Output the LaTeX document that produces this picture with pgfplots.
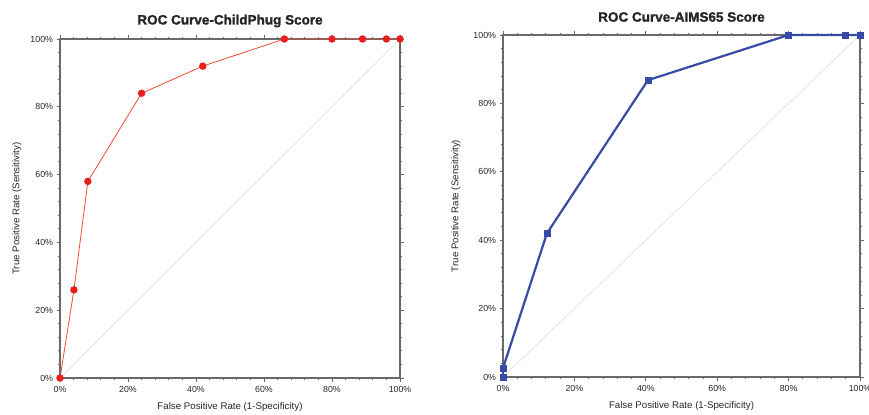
\documentclass[border=0pt]{standalone}
\usepackage{pgfplots}
\pgfplotsset{compat=1.18}
\usepackage{fontspec}
\setmainfont{Liberation Sans}
\newfontfamily\heavyfont{Liberation Sans Bold}[FakeBold=1.6]
\definecolor{rocred}{RGB}{232,30,30}
\definecolor{rocredline}{RGB}{240,75,55}
\definecolor{rocblue}{RGB}{55,75,165}
\definecolor{axgray}{RGB}{105,105,105}
\definecolor{diag}{RGB}{222,222,222}
\pgfplotsset{
  rocaxis/.style={
    scale only axis,
    xmin=0, xmax=100, ymin=0, ymax=100,
    clip=false,
    axis line style={axgray, line width=1.1bp},
    tick style={axgray, line width=0.8bp},
    major tick length=3.5bp,
    minor tick length=2bp,
    tick align=outside,
    xtick={0,20,40,60,80,100},
    ytick={0,20,40,60,80,100},
    minor x tick num=4,
    minor y tick num=4,
    xticklabels={0\%,20\%,40\%,60\%,80\%,100\%},
    yticklabels={0\%,20\%,40\%,60\%,80\%,100\%},
    /pgf/number format/assume math mode=true,
    tick label style={font=\fontsize{8.8bp}{10bp}\selectfont, text=black!85},
    xticklabel style={yshift=-1bp},
    label style={font=\fontsize{9.7bp}{11bp}\selectfont, text=black!85},
    title style={font=\fontsize{13.5bp}{15bp}\selectfont\heavyfont, text=black!85, anchor=center, at={(axis description cs:0.5,1)}, yshift=12bp},
    xlabel style={anchor=center, at={(axis description cs:0.5,0)}, yshift=-29bp},
    xlabel={False Positive Rate (1-Specificity)},
    ylabel={True Positive Rate (Sensitivity)},
  }
}
\begin{document}
\begin{tikzpicture}[x=1bp,y=1bp]
\useasboundingbox (0,0) rectangle (869,414);
\begin{axis}[rocaxis, at={(60bp,36bp)}, anchor=south west,
  width=340bp, height=339bp,
  title={ROC Curve-ChildPhug Score},
  ylabel style={anchor=center, at={(axis description cs:-0.127,0.5)}},
]
\addplot[diag, line width=0.6bp] coordinates {(0,0) (100,100)};
\addplot[rocredline, line width=0.8bp, mark=*, mark size=3.3bp,
  mark options={fill=rocred, draw=rocred}] coordinates {
  (0,0) (4.1,26) (8.2,58) (24,84) (42,92) (66,100) (80,100) (89,100) (96,100) (100,100)};
\end{axis}
\begin{axis}[rocaxis, at={(503bp,37bp)}, anchor=south west,
  width=357bp, height=342bp,
  title={ROC Curve-AIMS65 Score},
  ylabel style={anchor=center, at={(axis description cs:-0.132,0.5)}},
]
\addplot[diag, line width=0.6bp] coordinates {(0,0) (100,100)};
\addplot[rocblue, line width=2.2bp, mark=square*, mark size=3bp,
  mark options={fill=rocblue, draw=rocblue, line width=0.5bp}] coordinates {
  (0,0) (0,2.6) (12.3,42) (40.6,86.8) (80,100) (96,100) (100,100)};
\end{axis}
\end{tikzpicture}
\end{document}
